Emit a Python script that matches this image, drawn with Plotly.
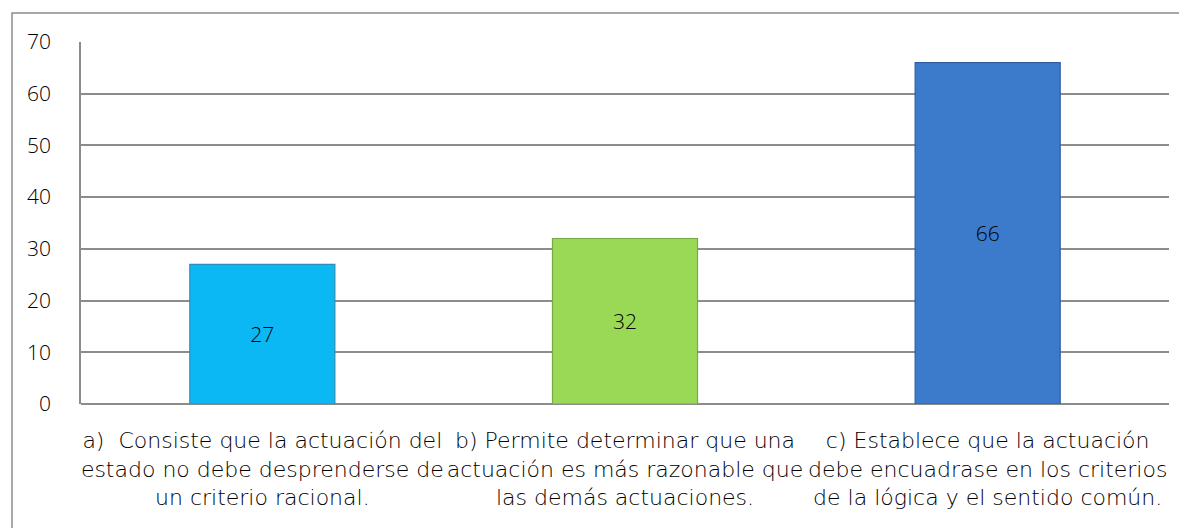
import plotly.graph_objects as go

categories = [
    "a)  Consiste que la actuación del<br>estado no debe desprenderse de<br>un criterio racional.",
    "b) Permite determinar que una<br>actuación es más razonable que<br>las demás actuaciones.",
    "c) Establece que la actuación<br>debe encuadrase en los criterios<br>de la lógica y el sentido común.",
]
values = [27, 32, 66]
bar_colors = ["#0BB8F3", "#9AD955", "#3C7BCB"]
line_colors = ["#2A8FB8", "#76A844", "#2F5F9E"]
y_ticks = [0, 10, 20, 30, 40, 50, 60, 70]

FONT = "'Open Sans', Lato, sans-serif"
CAT_FONT = "'DejaVu Sans', 'Open Sans', sans-serif"
FS = 21

fig = go.Figure(
    go.Bar(
        x=categories,
        y=values,
        marker=dict(color=bar_colors, line=dict(color=line_colors, width=1.2)),
        text=[str(v) for v in values],
        textposition="inside",
        insidetextanchor="middle",
        textfont=dict(family=FONT, size=FS, color="#000000", weight=300),
        width=0.4,
    )
)

# page body has an 8px margin; the figure is sized/positioned to compensate
W, H = 1179, 520
ml, mr, mt, mb = 73, 18, 34, 124
pw = W - ml - mr
ph = H - mt - mb

fig.update_layout(
    width=W,
    height=H,
    margin=dict(l=ml, r=mr, t=mt, b=mb),
    paper_bgcolor="white",
    plot_bgcolor="white",
    showlegend=False,
    font=dict(family=FONT, size=FS, color="#000000", weight=300),
    xaxis=dict(
        automargin=False,
        showgrid=False,
        showline=False,
        ticks="",
        tickfont=dict(family=CAT_FONT, size=22, color="#000000", weight=200),
        ticklabelstandoff=21,
    ),
    yaxis=dict(
        automargin=False,
        range=[0, 70],
        tickvals=y_ticks,
        showgrid=True,
        gridcolor="#8C8C8C",
        gridwidth=1.5,
        showline=True,
        linecolor="#8C8C8C",
        linewidth=1.5,
        zeroline=True,
        zerolinecolor="#8C8C8C",
        zerolinewidth=1.5,
        ticks="",
        ticklabelstandoff=24,
        tickfont=dict(family=FONT, size=FS, color="#000000", weight=300),
    ),
    shapes=[
        dict(
            type="rect",
            xref="paper",
            yref="paper",
            x0=(4 - ml) / pw,
            x1=(W + 10 - ml) / pw,
            y0=(H - mb - (H + 10)) / ph,
            y1=(H - mb - 5) / ph,
            line=dict(color="#8C8C8C", width=1.5),
            fillcolor="rgba(0,0,0,0)",
            layer="below",
        )
    ],
)

fig.write_html("out.html")
